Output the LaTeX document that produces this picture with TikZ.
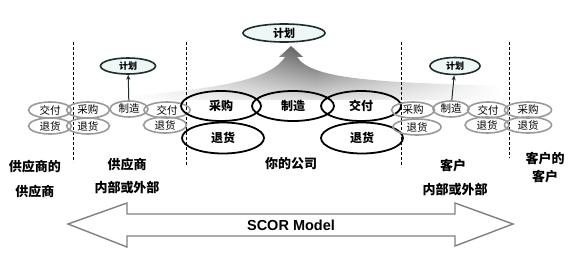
\documentclass[tikz,border=0pt]{standalone}
\usepackage{fontspec}
\newfontfamily\cjk{Noto Sans CJK SC}
\newfontfamily\lat{Liberation Sans}
\usetikzlibrary{shapes.geometric,arrows.meta,fadings}
\definecolor{smallgray}{HTML}{9A9A9A}
\definecolor{plandark}{HTML}{1E2D2D}
\definecolor{planfill}{HTML}{EEF6F6}
\tikzfading[name=midfade,left color=transparent!100,right color=transparent!100,middle color=transparent!0]
\tikzset{
  sm/.style={ellipse,draw=smallgray,line width=1.6pt,minimum width=43pt,minimum height=16pt,inner sep=0pt,font=\cjk\fontsize{10.5}{10.5}\selectfont},
  big/.style={ellipse,draw=black,line width=1.8pt,minimum width=80pt,minimum height=30pt,inner sep=0pt,font=\cjk\bfseries\fontsize{12}{12}\selectfont},
  plan/.style={ellipse,draw=plandark,fill=planfill,line width=1.6pt,inner sep=0pt},
  lbl/.style={font=\cjk\bfseries\fontsize{13}{13}\selectfont,inner sep=0pt},
  sep/.style={line width=0.6pt,dash pattern=on 3pt off 2pt},
  up/.style={-{Stealth[length=5pt,width=4pt]},line width=1pt,draw=plandark}
}
\begin{document}
\begin{tikzpicture}[x=1pt,y=-1pt]
\useasboundingbox (0,0) rectangle (582,260);
\fill[white] (0,0) rectangle (582,260);
% fan band with arrow
\shade[top color=black!70,bottom color=black!12,path fading=midfade]
  (130,100) -- (130,96) .. controls (220,88) and (270,80) .. (285,57)
  -- (279,57) -- (291,46) -- (303,57) -- (297,57)
  .. controls (312,80) and (380,82) .. (500,86) -- (500,100) -- cycle;
% separators
\draw[sep] (73,42) -- (73,162);
\draw[sep] (186,42) -- (186,166);
\draw[sep] (401,42) -- (401,167);
\draw[sep] (509,42) -- (509,158);
% plan ellipses
\node[plan,minimum width=82pt,minimum height=18pt,font=\cjk\bfseries\fontsize{11}{11}\selectfont] (P) at (284,33) {计划};
\node[plan,minimum width=55pt,minimum height=16pt,font=\cjk\bfseries\fontsize{9}{9}\selectfont] (PL) at (128,66) {计划};
\node[plan,minimum width=50pt,minimum height=17pt,font=\cjk\bfseries\fontsize{9}{9}\selectfont] (PR) at (455,66) {计划};
% left small group
\node[sm] (a1) at (50,110) {交付};
\node[sm] (a2) at (50,126) {退货};
\node[sm] (b1) at (88,110) {采购};
\node[sm] (b2) at (88,126) {退货};
\node[sm,minimum width=38pt] (b3) at (129,109) {制造};
\node[sm,minimum width=46pt] (b4) at (167,110) {交付};
\node[sm] (b5) at (165,125) {退货};
\draw[up] (b3) -- (PL);
% big group
\node[big] (c1) at (221,106) {采购};
\node[big,minimum width=82pt] (c2) at (293,106) {制造};
\node[big] (c3) at (361,106) {交付};
\node[big,minimum width=82pt,minimum height=31pt] (c4) at (223,138) {退货};
\node[big,minimum width=82pt,minimum height=31pt] (c5) at (362,138) {退货};
% right small group
\node[sm] (d1) at (413,110) {采购};
\node[sm,minimum width=48pt] (d2) at (417,127) {退货};
\node[sm,minimum width=36pt] (d3) at (451,109) {制造};
\node[sm,minimum width=41pt] (d4) at (488,110) {交付};
\node[sm,minimum width=44pt] (d5) at (487,125) {退货};
\node[sm,minimum width=47pt] (e1) at (528,110) {采购};
\node[sm,minimum width=47pt] (e2) at (528,125) {退货};
\draw[up] (d3) -- (PR);
% labels
\node[lbl] (l1) at (35,167) {供应商的};
\node[lbl] (l2) at (35,192) {供应商};
\node[lbl] (l3) at (127,165) {供应商};
\node[lbl] (l4) at (127,188) {内部或外部};
\node[lbl] (l5) at (291,164) {你的公司};
\node[lbl] (l6) at (453,166) {客户};
\node[lbl] (l7) at (455,190) {内部或外部};
\node[lbl] (l8) at (545,159) {客户的};
\node[lbl] (l9) at (545,177) {客户};
% SCOR arrow
\draw[draw=black!50,line width=1.4pt,fill=white,line join=miter]
  (68,224) -- (127,203) -- (127,214) -- (455,214) -- (455,203) -- (513,224)
  -- (455,246) -- (455,236) -- (127,236) -- (127,247) -- cycle;
\node[font=\lat\bfseries\fontsize{14.5}{14.5}\selectfont,inner sep=0pt] (scor) at (291,225) {SCOR Model};
\end{tikzpicture}
\end{document}
